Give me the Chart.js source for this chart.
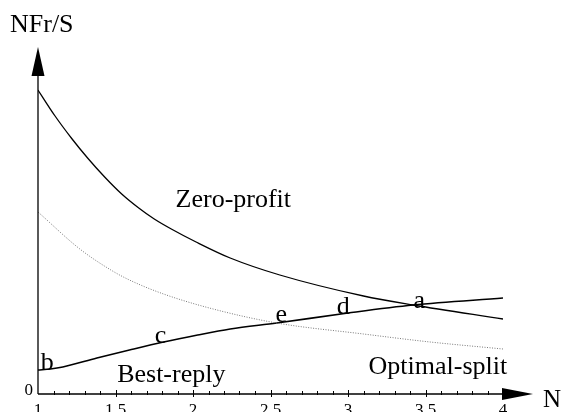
<!DOCTYPE html>
<html>
<head>
<meta charset="utf-8">
<script src="https://cdn.jsdelivr.net/npm/chart.js@4.4.0/dist/chart.umd.min.js"></script>
<style>
html, body { margin: 0; padding: 0; background: #fff; overflow: hidden; }
#moldura { width: 563px; height: 412px; overflow: hidden; }
</style>
</head>
<body>
<div id="moldura"><canvas id="grafico" width="563" height="430"></canvas></div>
<script>
// valores (N no eixo x, NFr/S no eixo y)
const zeroN = [1, 1.11, 1.22, 1.32, 1.43, 1.54, 1.65, 1.75, 1.86, 2.02, 2.24, 2.56, 3.1, 3.42, 4];
const zeroY = [3.04, 2.78, 2.55, 2.36, 2.17, 2.0, 1.86, 1.75, 1.65, 1.52, 1.36, 1.19, 0.98, 0.89, 0.75];

const optN = [1, 1.27, 1.47, 1.59, 1.81, 2.13, 2.54, 3.1, 3.53, 4];
const optY = [1.82, 1.45, 1.24, 1.14, 1.0, 0.85, 0.71, 0.60, 0.52, 0.45];

const bestN = [1, 1.08, 1.16, 1.38, 1.59, 1.81, 2.03, 2.24, 2.54, 3, 3.42, 4];
const bestY = [0.24, 0.25, 0.27, 0.36, 0.44, 0.52, 0.59, 0.65, 0.71, 0.81, 0.89, 0.96];

const xTicks = [1, 1.5, 2, 2.5, 3, 3.5, 4];

// rótulos dentro do gráfico, em unidades dos eixos
const notasTexto = ['Zero-profit', 'Best-reply', 'Optimal-split', 'a', 'b', 'c', 'd', 'e'];
const notasN = [2.26, 1.86, 3.58, 3.46, 1.06, 1.79, 2.97, 2.57];
const notasV = [1.87, 0.12, 0.20, 0.86, 0.24, 0.51, 0.80, 0.72];

const fonte = '"Liberation Serif", "Times New Roman", serif';

function pontos(xs, ys) {
    return xs.map((x, i) => ({ x: x, y: ys[i] }));
}

const eixos = {
    id: 'eixos',
    afterDraw(chart) {
        const ctx = chart.ctx;
        const xs = chart.scales.x;
        const ys = chart.scales.y;
        const area = chart.chartArea;
        const y0 = ys.getPixelForValue(0);
        const x0 = xs.getPixelForValue(1);
        const xFim = xs.getPixelForValue(4);

        ctx.save();
        ctx.strokeStyle = '#000';
        ctx.fillStyle = '#000';
        ctx.lineWidth = 1.3;

        // eixo x e seta
        ctx.beginPath();
        ctx.moveTo(x0, y0);
        ctx.lineTo(xFim, y0);
        ctx.stroke();
        ctx.beginPath();
        ctx.moveTo(xFim - 1, y0 - 6);
        ctx.lineTo(xFim + 30, y0);
        ctx.lineTo(xFim - 1, y0 + 6);
        ctx.closePath();
        ctx.fill();

        // eixo y e seta
        const topo = area.top + 3;
        ctx.beginPath();
        ctx.moveTo(x0, y0);
        ctx.lineTo(x0, topo + 28);
        ctx.stroke();
        ctx.beginPath();
        ctx.moveTo(x0 - 6.5, topo + 29);
        ctx.lineTo(x0, topo);
        ctx.lineTo(x0 + 6.5, topo + 29);
        ctx.closePath();
        ctx.fill();

        // marcas do eixo x a cada 0.1
        ctx.lineWidth = 1;
        for (let k = 1; k < 30; k++) {
            const px = Math.round(xs.getPixelForValue(1 + k / 10)) + 0.5;
            const maior = k % 5 === 0;
            ctx.beginPath();
            ctx.moveTo(px, y0 - (maior ? 4 : 3));
            ctx.lineTo(px, y0 + (maior ? 3 : 1));
            ctx.stroke();
        }

        // textos
        ctx.font = '26px ' + fonte;
        ctx.textBaseline = 'alphabetic';
        ctx.textAlign = 'center';
        notasTexto.forEach((t, i) => {
            ctx.fillText(t, xs.getPixelForValue(notasN[i]), ys.getPixelForValue(notasV[i]));
        });

        ctx.textAlign = 'left';
        ctx.fillText('NFr/S', 10, 32);
        ctx.font = '25px ' + fonte;
        ctx.fillText('N', xFim + 40, y0 + 13);

        ctx.font = '17px ' + fonte;
        ctx.textAlign = 'right';
        ctx.fillText('0', x0 - 5, y0 + 1);
        ctx.restore();
    }
};

function inicializarGrafico() {
    const ctx = document.getElementById('grafico').getContext('2d');
    return new Chart(ctx, {
        type: 'line',
        data: {
            datasets: [
                {
                    label: 'Zero-profit',
                    data: pontos(zeroN, zeroY),
                    borderColor: '#000',
                    borderWidth: 1.3,
                    pointRadius: 0,
                    cubicInterpolationMode: 'monotone',
                    fill: false
                },
                {
                    label: 'Optimal-split',
                    data: pontos(optN, optY),
                    borderColor: '#777',
                    borderWidth: 1,
                    borderDash: [1, 1.5],
                    pointRadius: 0,
                    cubicInterpolationMode: 'monotone',
                    fill: false
                },
                {
                    label: 'Best-reply',
                    data: pontos(bestN, bestY),
                    borderColor: '#000',
                    borderWidth: 1.6,
                    pointRadius: 0,
                    cubicInterpolationMode: 'monotone',
                    fill: false
                }
            ]
        },
        options: {
            responsive: false,
            animation: false,
            devicePixelRatio: 1,
            layout: { padding: { left: 38, right: 60, top: 44, bottom: 18 } },
            plugins: {
                legend: { display: false },
                tooltip: { enabled: false }
            },
            scales: {
                x: {
                    type: 'linear',
                    min: 1,
                    max: 4,
                    afterBuildTicks(scale) {
                        scale.ticks = xTicks.map(v => ({ value: v }));
                    },
                    afterFit(scale) { scale.height = 18; },
                    grid: { display: false, drawTicks: false },
                    border: { display: false },
                    ticks: {
                        autoSkip: false,
                        maxRotation: 0,
                        padding: 6,
                        color: '#000',
                        font: { family: fonte, size: 17 },
                        callback: v => String(v)
                    }
                },
                y: {
                    type: 'linear',
                    min: 0,
                    max: 3.5,
                    display: false
                }
            }
        },
        plugins: [eixos]
    });
}

document.addEventListener('DOMContentLoaded', () => {
    inicializarGrafico();
});
</script>
</body>
</html>
